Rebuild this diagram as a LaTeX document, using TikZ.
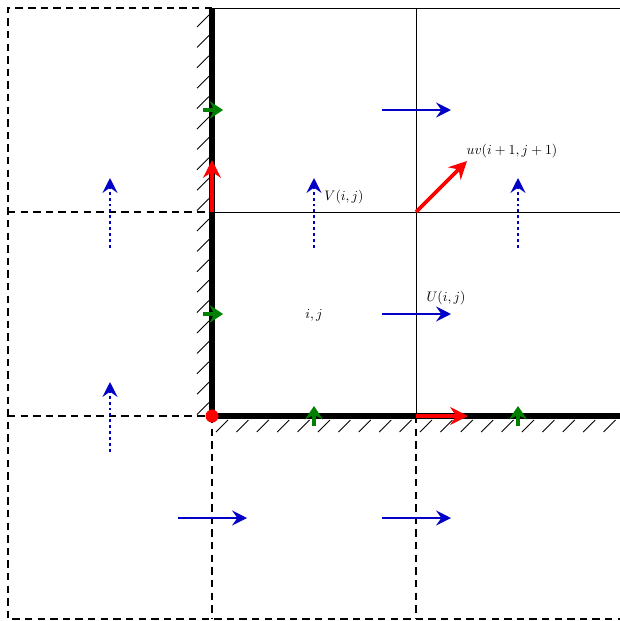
\documentclass[tikz,border=0pt]{standalone}
\usetikzlibrary{arrows.meta}
\definecolor{ublue}{RGB}{0,0,200}
\definecolor{ggreen}{RGB}{0,128,0}
\definecolor{rred}{RGB}{255,0,0}
\tikzset{
  thingrid/.style={line width=0.55pt, black},
  dashgrid/.style={line width=1.2pt, black, dash pattern=on 5pt off 3.5pt},
  wall/.style={line width=4pt, black},
  hatch/.style={line width=0.6pt, black},
  uarrow/.style={line width=2pt, ublue, -{Stealth[length=10pt,width=10pt,inset=3.5pt]}},
  varrow/.style={line width=2pt, ublue, dash pattern=on 2pt off 2pt, -{Stealth[length=10pt,width=10pt,inset=3.5pt]}},
  garrow/.style={line width=2.6pt, ggreen, -{Stealth[length=9pt,width=12pt,inset=3pt]}},
  rarrow/.style={line width=2.4pt, rred, -{Stealth[length=12pt,width=12pt,inset=4pt]}},
  lbl/.style={inner sep=0pt, scale=0.93}
}
\begin{document}
\begin{tikzpicture}[x=0.0237cm,y=-0.0237cm]
\useasboundingbox (0,0) rectangle (619,621);
% grid points
\foreach \c/\x in {0/8,1/212,2/416,3/620}{
  \foreach \r/\y in {0/8,1/212,2/416,3/619}{
    \coordinate (g-\c-\r) at (\x,\y);
  }
}
% dashed ghost cells
\draw[dashgrid] (g-1-0) -- (g-0-0) -- (g-0-3) -- (g-3-3);
\draw[dashgrid] (g-0-1) -- (g-1-1);
\draw[dashgrid] (g-0-2) -- (g-1-2);
\draw[dashgrid] (g-1-2) -- (g-1-3);
\draw[dashgrid] (g-2-2) -- (g-2-3);
% thin interior grid
\draw[thingrid] (g-1-0) -- (g-3-0) -- (g-3-2);
\draw[thingrid] (g-1-1) -- (g-3-1);
\draw[thingrid] (g-2-0) -- (g-2-2);
% hatching
\foreach \k in {0,...,19}{
  \draw[hatch] (197,{15+20.4*\k+12}) -- (209,{15+20.4*\k});
}
\foreach \k in {0,...,19}{
  \draw[hatch] ({216+20.4*\k},432) -- ({216+20.4*\k+12},420);
}
% walls
\draw[wall] (g-1-0) -- (g-1-2) -- (g-3-2);
% U arrows
\draw[uarrow] (382,110) -- (451,110);
\draw[uarrow] (382,314) -- (451,314);
\draw[uarrow] (178,518) -- (247,518);
\draw[uarrow] (382,518) -- (451,518);
% V arrows
\draw[varrow] (110,248) -- (110,178);
\draw[varrow] (314,248) -- (314,178);
\draw[varrow] (518,248) -- (518,178);
\draw[varrow] (110,452) -- (110,382);
% green markers
\draw[garrow] (203,110) -- (223,110);
\draw[garrow] (203,314) -- (223,314);
\draw[garrow] (314,426) -- (314,406);
\draw[garrow] (518,426) -- (518,406);
% red arrows
\draw[rarrow] (g-1-1) -- (212,160);
\draw[rarrow] (g-2-2) -- (468,416);
\draw[rarrow] (g-2-1) -- (467,161);
\fill[rred] (g-1-2) circle (6.5);
% labels
\node[lbl] (luv) at (512,151) {$uv(i+1,j+1)$};
\node[lbl] (lv) at (344,197) {$V(i,j)$};
\node[lbl] (lu) at (446,298) {$U(i,j)$};
\node[lbl] (lij) at (314,315) {$i,j$};
\end{tikzpicture}
\end{document}
